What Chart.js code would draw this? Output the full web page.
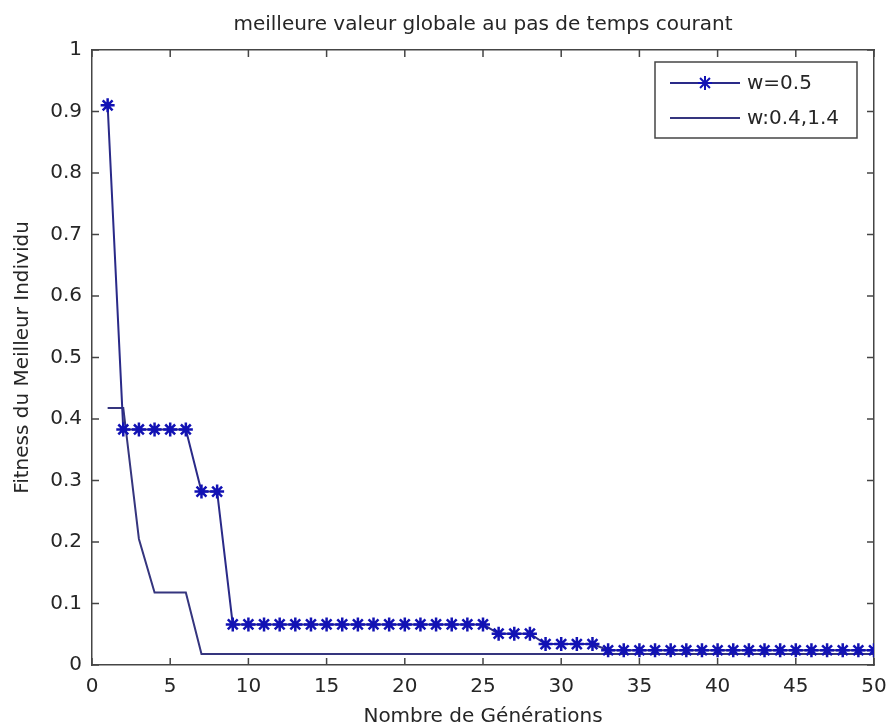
<!DOCTYPE html>
<html>
<head>
<meta charset="utf-8">
<script src="https://cdn.jsdelivr.net/npm/chart.js@4/dist/chart.umd.min.js"></script>
<style>
    body { margin: 0; background: #fff; }
</style>
</head>
<body>
<canvas id="chart" width="888" height="728"></canvas>
<script>
// generations 1..50
var generations = [1,2,3,4,5,6,7,8,9,10,11,12,13,14,15,16,17,18,19,20,21,22,23,24,25,
    26,27,28,29,30,31,32,33,34,35,36,37,38,39,40,41,42,43,44,45,46,47,48,49,50];

// w=0.5 (avec marqueurs)
var fitnessW05 = [0.91, 0.383, 0.383, 0.383, 0.383, 0.383, 0.282, 0.282,
    0.066, 0.066, 0.066, 0.066, 0.066, 0.066, 0.066, 0.066, 0.066, 0.066, 0.066, 0.066,
    0.066, 0.066, 0.066, 0.066, 0.066,
    0.051, 0.051, 0.051,
    0.034, 0.034, 0.034, 0.034,
    0.024, 0.024, 0.024, 0.024, 0.024, 0.024, 0.024, 0.024, 0.024,
    0.024, 0.024, 0.024, 0.024, 0.024, 0.024, 0.024, 0.024, 0.024];

// w:0.4,1.4
var fitnessWVar = [0.418, 0.418, 0.205, 0.118, 0.118, 0.118,
    0.018, 0.018, 0.018, 0.018, 0.018, 0.018, 0.018, 0.018, 0.018, 0.018, 0.018, 0.018,
    0.018, 0.018, 0.018, 0.018, 0.018, 0.018, 0.018, 0.018, 0.018, 0.018, 0.018, 0.018,
    0.018, 0.018, 0.018, 0.018, 0.018, 0.018, 0.018, 0.018, 0.018, 0.018, 0.018, 0.018,
    0.018, 0.018, 0.018, 0.018, 0.018, 0.018, 0.018, 0.018];

var seriesLabels = ['w=0.5', 'w:0.4,1.4'];
var xTicks = [0, 5, 10, 15, 20, 25, 30, 35, 40, 45, 50];
var yTicks = [0, 0.1, 0.2, 0.3, 0.4, 0.5, 0.6, 0.7, 0.8, 0.9, 1];

var FONT = 'DejaVu Sans';
var TXT = '#262626';
var AXIS = '#454545';

function toPoints(values)
{
    var pts = [];
    for (var i = 0; i < values.length; i++) {
        pts.push({ x: generations[i], y: values[i] });
    }
    return pts;
}

// taille fixe des axes, sans marge automatique
function fixSize(w, h)
{
    return function(s) {
        if (w !== null) { s.width = w; }
        if (h !== null) { s.height = h; }
        s.paddingLeft = 0;
        s.paddingRight = 0;
        s.paddingTop = 0;
        s.paddingBottom = 0;
    };
}

// petits traits vers l'intérieur, comme matlab
var insideTicks = {
    id: 'insideTicks',
    afterDatasetsDraw: function(chart) {
        var ctx = chart.ctx;
        var a = chart.chartArea;
        var xs = chart.scales.x;
        var ys = chart.scales.y;
        var len = 7;
        ctx.save();
        ctx.strokeStyle = AXIS;
        ctx.lineWidth = 1.5;
        ctx.beginPath();
        for (var i = 0; i < xTicks.length; i++) {
            var px = xs.getPixelForValue(xTicks[i]);
            ctx.moveTo(px, a.bottom); ctx.lineTo(px, a.bottom - len);
            ctx.moveTo(px, a.top); ctx.lineTo(px, a.top + len);
        }
        for (var j = 0; j < yTicks.length; j++) {
            var py = ys.getPixelForValue(yTicks[j]);
            ctx.moveTo(a.left, py); ctx.lineTo(a.left + len, py);
            ctx.moveTo(a.right, py); ctx.lineTo(a.right - len, py);
        }
        ctx.stroke();
        ctx.restore();
    }
};

// légende dans le coin haut droit
var boxLegend = {
    id: 'boxLegend',
    afterDraw: function(chart) {
        var ctx = chart.ctx;
        var a = chart.chartArea;
        var w = 202, h = 76;
        var left = a.right - 219;
        var top = a.top + 12;
        ctx.save();
        ctx.fillStyle = '#fff';
        ctx.fillRect(left, top, w, h);
        ctx.strokeStyle = AXIS;
        ctx.lineWidth = 1.5;
        ctx.strokeRect(left, top, w, h);

        var rows = [top + 21, top + 56];
        for (var i = 0; i < chart.data.datasets.length; i++) {
            var ds = chart.data.datasets[i];
            ctx.strokeStyle = ds.borderColor;
            ctx.lineWidth = ds.borderWidth;
            ctx.beginPath();
            ctx.moveTo(left + 15, rows[i]);
            ctx.lineTo(left + 85, rows[i]);
            ctx.stroke();
            if (ds.pointRadius > 0) {
                ctx.fillStyle = ds.pointBackgroundColor;
                ctx.strokeStyle = ds.pointBorderColor;
                Chart.helpers.drawPoint(ctx, {
                    pointStyle: ds.pointStyle,
                    radius: ds.pointRadius,
                    borderWidth: ds.pointBorderWidth
                }, left + 50, rows[i]);
            }
            ctx.fillStyle = TXT;
            ctx.font = '20px "' + FONT + '"';
            ctx.textBaseline = 'middle';
            ctx.textAlign = 'left';
            ctx.fillText(ds.label, left + 92, rows[i] + 1);
        }
        ctx.restore();
    }
};

var sideGrid = { display: true, drawOnChartArea: false, drawTicks: false };
var sideBorder = { display: true, color: AXIS, width: 1.5 };

var chart = new Chart(document.getElementById('chart'), {
    type: 'line',
    data: {
        datasets: [{
            label: seriesLabels[0],
            data: toPoints(fitnessW05),
            borderColor: '#2a2a88',
            borderWidth: 2,
            pointStyle: 'star',
            pointRadius: 7,
            pointBorderWidth: 2.5,
            pointBorderColor: '#1212b4',
            pointBackgroundColor: '#1212b4',
            tension: 0
        }, {
            label: seriesLabels[1],
            data: toPoints(fitnessWVar),
            borderColor: '#35357e',
            borderWidth: 2,
            pointRadius: 0,
            tension: 0
        }]
    },
    options: {
        responsive: false,
        animation: false,
        layout: { padding: 0, autoPadding: false },
        plugins: {
            legend: { display: false },
            tooltip: { enabled: false }
        },
        scales: {
            x: {
                type: 'linear',
                position: 'bottom',
                min: 0, max: 50,
                afterBuildTicks: function(s) { s.ticks = xTicks.map(function(v) { return { value: v }; }); },
                afterFit: fixSize(null, 63),
                ticks: { padding: 10, color: TXT, font: { family: FONT, size: 20 }, maxRotation: 0 },
                grid: sideGrid,
                border: sideBorder,
                title: {
                    display: true,
                    text: 'Nombre de Générations',
                    color: TXT,
                    font: { family: FONT, size: 20, lineHeight: 1 },
                    padding: { top: 0, bottom: 1 }
                }
            },
            x2: {
                type: 'linear',
                position: 'top',
                min: 0, max: 50,
                afterFit: fixSize(null, 50),
                ticks: { display: false },
                grid: sideGrid,
                border: sideBorder,
                title: {
                    display: true,
                    text: 'meilleure valeur globale au pas de temps courant',
                    color: TXT,
                    font: { family: FONT, size: 20, lineHeight: 1 },
                    padding: { top: 15, bottom: 0 }
                }
            },
            y: {
                type: 'linear',
                position: 'left',
                min: 0, max: 1,
                afterBuildTicks: function(s) { s.ticks = yTicks.map(function(v) { return { value: v }; }); },
                afterFit: fixSize(92, null),
                ticks: {
                    padding: 10, color: TXT, font: { family: FONT, size: 20 },
                    callback: function(v) { return String(Number(v.toFixed(1))); }
                },
                grid: sideGrid,
                border: sideBorder,
                title: {
                    display: true,
                    text: 'Fitness du Meilleur Individu',
                    color: TXT,
                    font: { family: FONT, size: 20, lineHeight: 1 },
                    padding: { top: 13, bottom: 0 }
                }
            },
            y2: {
                type: 'linear',
                position: 'right',
                min: 0, max: 1,
                afterFit: fixSize(14, null),
                ticks: { display: false },
                grid: sideGrid,
                border: sideBorder
            }
        }
    },
    plugins: [insideTicks, boxLegend]
});
</script>
</body>
</html>
